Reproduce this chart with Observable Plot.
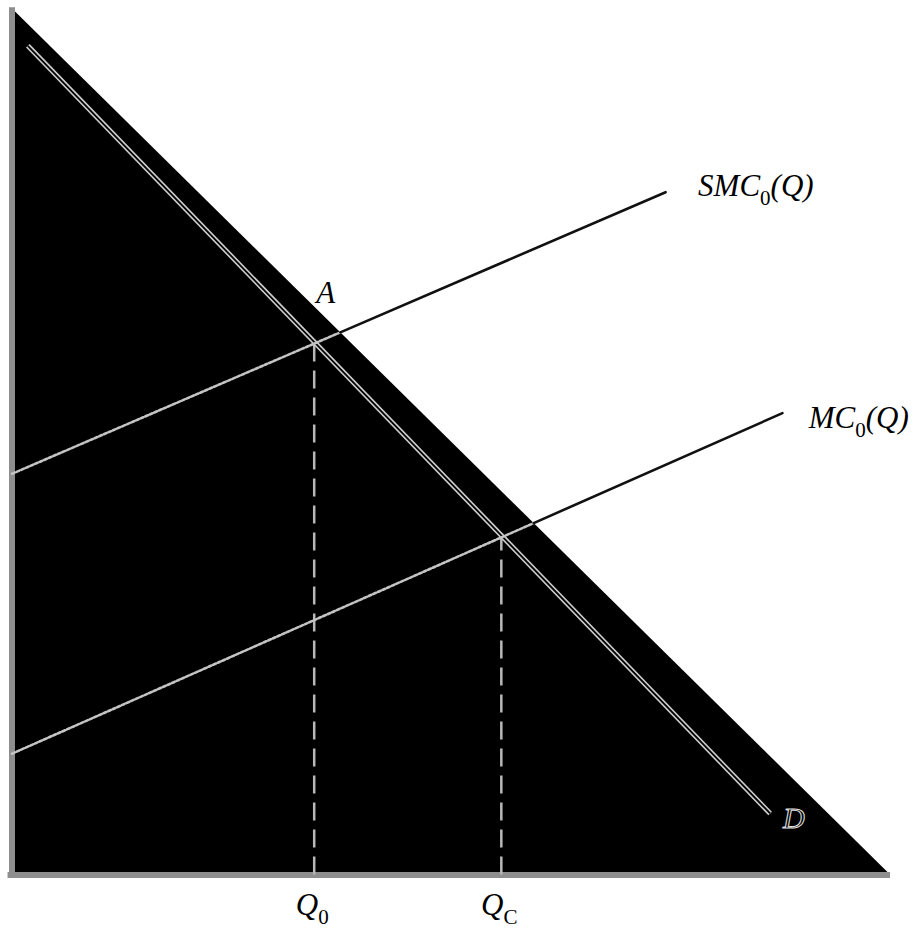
<!DOCTYPE html>
<html>
<head>
<meta charset="utf-8">
<script src="https://cdn.jsdelivr.net/npm/d3@7"></script>
<script src="https://cdn.jsdelivr.net/npm/@observablehq/plot@0.6"></script>
<style>
  html, body { margin: 0; padding: 0; background: white; }
</style>
</head>
<body>
<script>
// ---- data (in chart units: quantity 0..100, price 0..100) ----
const shadeX = [0, 100];          // black region under x + y = 100
const shadeY = [100, 0];
const demandX = [1.8, 86.3];      // D
const demandY = [95.7, 7.1];
const smcX = [0, 74.4];           // SMC0(Q)
const smcY = [46.3, 78.8];
const mcX = [0, 87.7];            // MC0(Q)
const mcY = [14.0, 53.3];
const qNames = ["Q_0", "Q_C"];    // tick labels on quantity axis
const qX = [34.4, 55.7];
const qP = [61.4, 39.0];          // price at the intersections
const curveLabels = ["SMC_0(Q)", "MC_0(Q)"];
const curveLabelX = [78.1, 90.7];
const curveLabelY = [79.5, 52.7];
const pointLabels = ["A"];
const pointLabelX = [35.7];
const pointLabelY = [67.2];
const demandLabel = ["D"];
const demandLabelX = [89.0];
const demandLabelY = [6.5];

// split a segment where it crosses the edge x + y = 100
function split(xs, ys) {
  const [x0, x1] = xs, [y0, y1] = ys;
  const t = (100 - x0 - y0) / ((x1 - x0) + (y1 - y0));
  const xm = x0 + t * (x1 - x0), ym = y0 + t * (y1 - y0);
  return {
    inside: [{x: x0, y: y0}, {x: xm, y: ym}],
    outside: [{x: xm, y: ym}, {x: x1, y: y1}]
  };
}
const smc = split(smcX, smcY);
const mc = split(mcX, mcY);
const shade = shadeX.map((x, i) => ({x, y: shadeY[i]}));
const demand = demandX.map((x, i) => ({x, y: demandY[i]}));
const idxQ = qX.map((_, i) => i);

const font = "'Liberation Serif', 'DejaVu Serif', serif";

const svg = Plot.plot({
  width: 917,
  height: 933,
  marginLeft: 11.5,
  marginRight: 27,
  marginTop: 8,
  marginBottom: 58.5,
  x: {domain: [0, 100], axis: null},
  y: {domain: [0, 100], axis: null},
  style: {background: "white", fontFamily: font},
  marks: [
    Plot.areaY(shade, {x: "x", y: "y", fill: "black"}),
    // axes
    Plot.ruleX([0], {y1: 0, y2: 100.1, stroke: "#8e8e8e", strokeWidth: 6}),
    Plot.ruleY([0], {x1: -0.45, x2: 100, stroke: "#8e8e8e", strokeWidth: 6}),
    // dashed drop lines
    Plot.ruleX(idxQ, {x: i => qX[i], y1: 0, y2: i => qP[i], stroke: "#b8b8b8", strokeWidth: 2.5, strokeDasharray: "18,9"}),
    // demand: hollow light line
    Plot.line(demand, {x: "x", y: "y", stroke: "#cfcfcf", strokeWidth: 5, strokeLinecap: "butt"}),
    Plot.line(demand, {x: "x", y: "y", stroke: "black", strokeWidth: 1.8, strokeLinecap: "butt"}),
    // cost curves: dotted light inside the black area, solid black outside
    Plot.line(smc.inside, {x: "x", y: "y", stroke: "#c4c4c4", strokeWidth: 2.6, strokeDasharray: "3,2"}),
    Plot.line(smc.outside, {x: "x", y: "y", stroke: "#111", strokeWidth: 2.6}),
    Plot.line(mc.inside, {x: "x", y: "y", stroke: "#c4c4c4", strokeWidth: 2.6, strokeDasharray: "3,2"}),
    Plot.line(mc.outside, {x: "x", y: "y", stroke: "#111", strokeWidth: 2.6}),
    // labels
    Plot.text(curveLabels, {x: (d, i) => curveLabelX[i], y: (d, i) => curveLabelY[i], text: d => d, textAnchor: "start", fontSize: 31, fontStyle: "italic", fill: "black"}),
    Plot.text(pointLabels, {x: (d, i) => pointLabelX[i], y: (d, i) => pointLabelY[i], text: d => d, fontSize: 31, fontStyle: "italic", fill: "black"}),
    Plot.text(demandLabel, {x: (d, i) => demandLabelX[i], y: (d, i) => demandLabelY[i], text: d => d, fontSize: 30, fontStyle: "italic", fill: "black", stroke: "#dddddd", strokeWidth: 1.1, paintOrder: "normal"}),
    Plot.text(qNames, {x: (d, i) => qX[i], y: 0, dy: 30, dx: -2, text: d => d, fontSize: 31, fontStyle: "italic", fill: "black"})
  ]
});

// turn "X_s" into a real subscript using tspans
svg.querySelectorAll("text").forEach(t => {
  const s = t.textContent;
  const m = s.match(/^(.*?)_(.)(.*)$/);
  if (!m) return;
  const fs = parseFloat(t.getAttribute("font-size") || getComputedStyle(t).fontSize || 30) || 30;
  const ns = "http://www.w3.org/2000/svg";
  t.textContent = "";
  const a = document.createElementNS(ns, "tspan");
  a.textContent = m[1];
  const b = document.createElementNS(ns, "tspan");
  b.textContent = m[2];
  b.setAttribute("font-style", "normal");
  b.setAttribute("font-size", (fs * 0.7).toFixed(1));
  b.setAttribute("dy", (fs * 0.3).toFixed(1));
  t.appendChild(a);
  t.appendChild(b);
  if (m[3]) {
    const c = document.createElementNS(ns, "tspan");
    c.textContent = m[3];
    c.setAttribute("dy", (-fs * 0.3).toFixed(1));
    t.appendChild(c);
  }
});

document.body.appendChild(svg);
</script>
</body>
</html>
